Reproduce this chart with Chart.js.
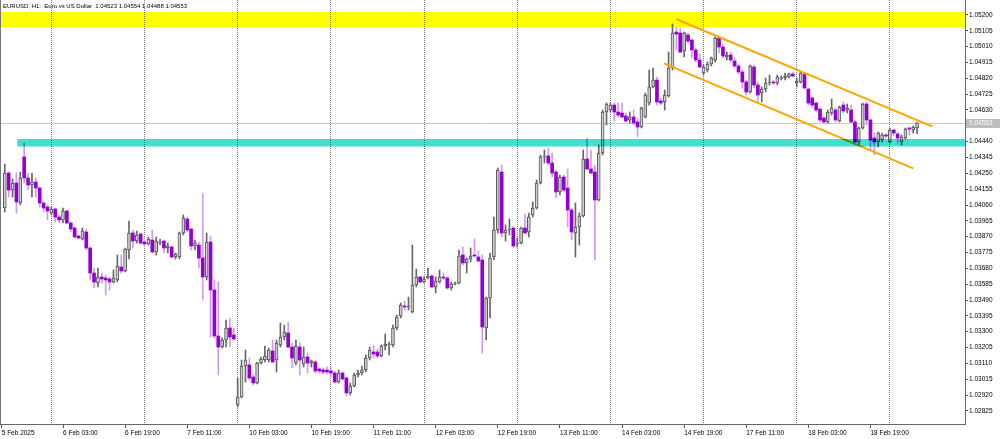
<!DOCTYPE html>
<html><head><meta charset="utf-8">
<script src="https://cdn.jsdelivr.net/npm/chart.js@4.4.1/dist/chart.umd.min.js"></script>
<style>html,body{margin:0;padding:0;background:#fff;overflow:hidden}</style>
</head><body>
<canvas id="c" width="1000" height="439"></canvas>
<script>
const symbolTitle = 'EURUSD, H1:  Euro vs US Dollar  1.04523 1.04554 1.04488 1.04553';

const openP = [
1.04042,1.04252,1.04150,1.04192,1.04072,1.04348,1.04222,1.04180,1.04198,1.04162,
1.04072,1.04048,1.04012,1.04036,1.03988,1.03970,1.04024,1.03952,1.03922,1.03874,
1.03856,1.03898,1.03802,1.03652,1.03592,1.03628,1.03622,1.03616,1.03598,1.03610,
1.03688,1.03664,1.03790,1.03892,1.03844,1.03886,1.03838,1.03826,1.03850,1.03778,
1.03832,1.03844,1.03802,1.03808,1.03748,1.03748,1.03892,1.03976,1.03916,1.03814,
1.03820,1.03742,1.03628,1.03838,1.03550,1.03274,1.03208,1.03250,1.03322,1.03280,
1.02860,1.02908,1.03094,1.03100,1.03028,1.02992,1.03112,1.03130,1.03130,1.03184,
1.03130,1.03220,1.03268,1.03292,1.03208,1.03112,1.03208,1.03106,1.03148,1.03112,
1.03118,1.03076,1.03070,1.03070,1.03064,1.03052,1.02998,1.03052,1.03022,1.02932,
1.02974,1.03040,1.03052,1.03070,1.03142,1.03178,1.03178,1.03154,1.03214,1.03220,
1.03220,1.03322,1.03394,1.03454,1.03448,1.03418,1.03580,1.03628,1.03598,1.03622,
1.03634,1.03568,1.03598,1.03628,1.03622,1.03562,1.03586,1.03592,1.03760,1.03712,
1.03736,1.03760,1.03748,1.03730,1.03322,1.03502,1.03748,1.03910,1.04258,1.03892,
1.03910,1.03922,1.03826,1.03832,1.03922,1.03898,1.04000,1.04042,1.04192,1.04348,
1.04354,1.04312,1.04258,1.04138,1.04228,1.04162,1.04030,1.03892,1.03928,1.03994,
1.04336,1.04276,1.04258,1.04090,1.04372,1.04618,1.04630,1.04660,1.04618,1.04612,
1.04594,1.04570,1.04588,1.04558,1.04528,1.04588,1.04672,1.04768,1.04810,1.04684,
1.04678,1.04714,1.04882,1.05098,1.05092,1.04984,1.05080,1.05050,1.04990,1.04930,
1.04852,1.04870,1.04906,1.04930,1.05062,1.05008,1.04948,1.04960,1.04924,1.04894,
1.04858,1.04798,1.04738,1.04888,1.04780,1.04732,1.04756,1.04792,1.04798,1.04792,
1.04816,1.04822,1.04828,1.04846,1.04792,1.04798,1.04846,1.04756,1.04702,1.04672,
1.04636,1.04582,1.04558,1.04612,1.04630,1.04564,1.04660,1.04630,1.04630,1.04558,
1.04438,1.04522,1.04666,1.04570,1.04462,1.04438,1.04450,1.04480,1.04438,1.04510,
1.04486,1.04438,1.04462,1.04522,1.04510,1.04523];

const highP = [
1.04306,1.04258,1.04216,1.04252,1.04258,1.04432,1.04252,1.04252,1.04222,1.04168,
1.04078,1.04060,1.04048,1.04042,1.04000,1.04042,1.04030,1.03958,1.03928,1.03880,
1.03922,1.03916,1.03808,1.03682,1.03682,1.03652,1.03640,1.03628,1.03670,1.03760,
1.03760,1.03802,1.03964,1.03910,1.03904,1.03892,1.03850,1.03868,1.03910,1.03868,
1.03856,1.03850,1.03832,1.03814,1.03772,1.03898,1.04000,1.03988,1.03920,1.03850,
1.03838,1.04132,1.03892,1.03874,1.03610,1.03598,1.03262,1.03370,1.03382,1.03322,
1.03022,1.03130,1.03190,1.03142,1.03040,1.03118,1.03148,1.03214,1.03202,1.03250,
1.03250,1.03352,1.03340,1.03358,1.03232,1.03250,1.03232,1.03208,1.03172,1.03130,
1.03130,1.03082,1.03082,1.03088,1.03088,1.03064,1.03070,1.03058,1.03028,1.02992,
1.03052,1.03070,1.03094,1.03160,1.03208,1.03220,1.03196,1.03220,1.03286,1.03238,
1.03340,1.03400,1.03472,1.03484,1.03508,1.03820,1.03676,1.03634,1.03628,1.03682,
1.03640,1.03628,1.03670,1.03652,1.03628,1.03598,1.03598,1.03790,1.03808,1.03742,
1.03802,1.03856,1.03784,1.03760,1.03508,1.03772,1.03988,1.04282,1.04300,1.03940,
1.03976,1.03928,1.03862,1.03928,1.04006,1.04012,1.04078,1.04210,1.04360,1.04390,
1.04402,1.04372,1.04270,1.04240,1.04240,1.04276,1.04042,1.04072,1.04012,1.04390,
1.04462,1.04390,1.04300,1.04420,1.04630,1.04672,1.04672,1.04672,1.04672,1.04672,
1.04612,1.04618,1.04630,1.04582,1.04648,1.04732,1.04870,1.04882,1.04828,1.04702,
1.04750,1.04978,1.05146,1.05128,1.05122,1.05098,1.05092,1.05056,1.05002,1.04966,
1.04900,1.04918,1.04948,1.05068,1.05074,1.05026,1.04978,1.04978,1.04942,1.04906,
1.04870,1.04810,1.04900,1.04900,1.04798,1.04768,1.04822,1.04840,1.04810,1.04840,
1.04834,1.04852,1.04852,1.04858,1.04822,1.04858,1.04852,1.04762,1.04708,1.04678,
1.04642,1.04588,1.04630,1.04696,1.04642,1.04654,1.04678,1.04666,1.04660,1.04570,
1.04528,1.04672,1.04678,1.04576,1.04492,1.04498,1.04492,1.04486,1.04522,1.04516,
1.04498,1.04480,1.04522,1.04528,1.04534,1.04554];

const lowP = [
1.04018,1.04108,1.04108,1.04012,1.04060,1.04192,1.04150,1.04108,1.04108,1.04048,
1.04018,1.03970,1.04000,1.03958,1.03952,1.03952,1.03946,1.03898,1.03862,1.03856,
1.03850,1.03790,1.03610,1.03562,1.03568,1.03592,1.03520,1.03550,1.03592,1.03598,
1.03652,1.03658,1.03736,1.03802,1.03832,1.03826,1.03820,1.03820,1.03772,1.03760,
1.03820,1.03772,1.03772,1.03742,1.03736,1.03736,1.03880,1.03898,1.03790,1.03790,
1.03682,1.03490,1.03610,1.03268,1.03262,1.03040,1.03202,1.03208,1.03208,1.03250,
1.02848,1.02902,1.02998,1.03010,1.02980,1.02986,1.03106,1.03118,1.03118,1.03112,
1.03058,1.03208,1.03250,1.03202,1.03082,1.03100,1.03040,1.03088,1.03052,1.03088,
1.03052,1.03052,1.03046,1.03046,1.03028,1.02992,1.02992,1.03010,1.02914,1.02920,
1.02968,1.03028,1.03040,1.03058,1.03130,1.03142,1.03142,1.03148,1.03190,1.03160,
1.03208,1.03310,1.03382,1.03430,1.03430,1.03412,1.03568,1.03592,1.03592,1.03616,
1.03562,1.03532,1.03592,1.03610,1.03556,1.03550,1.03580,1.03586,1.03700,1.03652,
1.03718,1.03748,1.03718,1.03172,1.03250,1.03382,1.03730,1.03892,1.03868,1.03844,
1.03880,1.03808,1.03808,1.03826,1.03886,1.03868,1.03988,1.04036,1.04186,1.04312,
1.04300,1.04228,1.04102,1.04120,1.04138,1.03928,1.03850,1.03748,1.03820,1.03988,
1.04270,1.04246,1.03730,1.04084,1.04360,1.04540,1.04618,1.04564,1.04588,1.04582,
1.04558,1.04552,1.04540,1.04468,1.04522,1.04582,1.04660,1.04762,1.04660,1.04660,
1.04630,1.04708,1.04870,1.04990,1.04972,1.04948,1.05032,1.04942,1.04918,1.04882,
1.04840,1.04858,1.04894,1.04918,1.04972,1.04942,1.04930,1.04918,1.04882,1.04846,
1.04762,1.04720,1.04732,1.04762,1.04672,1.04678,1.04738,1.04780,1.04786,1.04780,
1.04810,1.04810,1.04822,1.04828,1.04768,1.04792,1.04756,1.04660,1.04648,1.04618,
1.04558,1.04552,1.04552,1.04600,1.04558,1.04558,1.04612,1.04612,1.04552,1.04420,
1.04420,1.04516,1.04540,1.04390,1.04360,1.04408,1.04438,1.04462,1.04432,1.04480,
1.04432,1.04420,1.04456,1.04480,1.04492,1.04488];

const closeP = [
1.04252,1.04150,1.04192,1.04078,1.04222,1.04222,1.04180,1.04198,1.04162,1.04072,
1.04042,1.04024,1.04036,1.03988,1.03970,1.04024,1.03952,1.03916,1.03868,1.03862,
1.03904,1.03802,1.03652,1.03598,1.03628,1.03616,1.03610,1.03598,1.03622,1.03694,
1.03664,1.03796,1.03892,1.03844,1.03880,1.03832,1.03826,1.03856,1.03778,1.03844,
1.03838,1.03802,1.03814,1.03748,1.03766,1.03892,1.03982,1.03910,1.03814,1.03832,
1.03742,1.03628,1.03838,1.03550,1.03274,1.03208,1.03250,1.03322,1.03268,1.03256,
1.02908,1.03094,1.03130,1.03022,1.02992,1.03112,1.03136,1.03154,1.03190,1.03118,
1.03232,1.03268,1.03298,1.03208,1.03142,1.03214,1.03130,1.03148,1.03112,1.03124,
1.03064,1.03064,1.03058,1.03058,1.03052,1.02998,1.03052,1.03016,1.02932,1.02974,
1.03040,1.03052,1.03070,1.03142,1.03190,1.03166,1.03154,1.03214,1.03226,1.03222,
1.03322,1.03388,1.03460,1.03448,1.03454,1.03580,1.03628,1.03598,1.03616,1.03634,
1.03568,1.03604,1.03628,1.03622,1.03562,1.03586,1.03592,1.03754,1.03712,1.03736,
1.03754,1.03754,1.03724,1.03328,1.03502,1.03742,1.03910,1.04270,1.03892,1.03910,
1.03916,1.03814,1.03832,1.03922,1.03892,1.03988,1.04042,1.04192,1.04348,1.04354,
1.04312,1.04252,1.04138,1.04228,1.04150,1.04030,1.03898,1.03928,1.03994,1.04336,
1.04276,1.04252,1.04090,1.04372,1.04618,1.04666,1.04660,1.04618,1.04600,1.04588,
1.04564,1.04588,1.04552,1.04528,1.04642,1.04720,1.04768,1.04810,1.04678,1.04672,
1.04720,1.04882,1.05092,1.05086,1.04978,1.05092,1.05044,1.04990,1.04930,1.04888,
1.04888,1.04906,1.04942,1.05062,1.05008,1.04954,1.04960,1.04930,1.04894,1.04858,
1.04798,1.04738,1.04894,1.04780,1.04720,1.04756,1.04792,1.04798,1.04792,1.04828,
1.04822,1.04834,1.04846,1.04834,1.04804,1.04852,1.04762,1.04672,1.04660,1.04630,
1.04570,1.04558,1.04618,1.04642,1.04570,1.04648,1.04624,1.04642,1.04558,1.04438,
1.04522,1.04666,1.04570,1.04450,1.04438,1.04492,1.04480,1.04474,1.04510,1.04492,
1.04462,1.04468,1.04516,1.04516,1.04528,1.04553];

// time axis: candle index of each labelled hour, and index of each day start (dotted grid)
const xTickIndex  = [-0.79, 15, 31, 47, 63, 79, 95, 111, 127, 143, 159, 175, 191, 207, 223];
const xTickLabels = ['5 Feb 2025','6 Feb 03:00','6 Feb 19:00','7 Feb 11:00','10 Feb 03:00',
  '10 Feb 19:00','11 Feb 11:00','12 Feb 03:00','12 Feb 19:00','13 Feb 11:00','14 Feb 03:00',
  '14 Feb 19:00','17 Feb 11:00','18 Feb 03:00','18 Feb 19:00'];
const dayStartIndex = [12, 36, 60, 84, 108, 132, 156, 180, 204, 228];

const yTickValues = [1.05200,1.05105,1.05010,1.04915,1.04820,1.04725,1.04630,1.04535,1.04440,
  1.04345,1.04250,1.04155,1.04060,1.03965,1.03870,1.03775,1.03680,1.03585,1.03490,1.03395,
  1.03300,1.03205,1.03110,1.03015,1.02920,1.02825];

const lastPrice = 1.04553;
const resistanceZone = [1.05128, 1.05218];
const supportZone = [1.04411, 1.04456];
const supportZoneStart = 3.2;
const channelUpper = [{x: 172.9, y: 1.05176}, {x: 239.0, y: 1.04530}];
const channelLower = [{x: 169.8, y: 1.04910}, {x: 234.0, y: 1.04280}];

const FONT = 'Liberation Sans, Arial, sans-serif';
const FS = 6.5;
const TITLE_FS = 6;

const idx = openP.map((_, i) => i);
const isBull = idx.map(i => closeP[i] >= openP[i]);
const bodyData = idx.map(i => ({x: i, y: [openP[i], closeP[i]]}));
const wickData = idx.map(i => ({x: i, y: [lowP[i], highP[i]]}));

const overlay = {
  id: 'overlay',
  beforeDatasetsDraw(chart) {
    const {ctx, chartArea: a, scales: {y}} = chart;
    const py = Math.round(y.getPixelForValue(lastPrice)) + 0.5;
    ctx.save();
    ctx.strokeStyle = '#c8c8c8'; ctx.lineWidth = 1;
    ctx.beginPath(); ctx.moveTo(a.left, py); ctx.lineTo(a.right, py); ctx.stroke();
    ctx.restore();
  },
  afterDatasetsDraw(chart) {
    const {ctx, chartArea: a, scales: {x, y}} = chart;
    ctx.save();
    ctx.globalCompositeOperation = 'multiply';
    let t = y.getPixelForValue(resistanceZone[1]), b = y.getPixelForValue(resistanceZone[0]);
    ctx.fillStyle = '#ffff00';
    ctx.fillRect(a.left, t, a.right - a.left, b - t);
    t = y.getPixelForValue(supportZone[1]); b = y.getPixelForValue(supportZone[0]);
    const sx = x.getPixelForValue(supportZoneStart);
    ctx.fillStyle = '#40e0d0';
    ctx.fillRect(sx, t, a.right - sx, b - t);
    ctx.restore();
  },
  afterDraw(chart) {
    const {ctx, chartArea: a, scales: {y}} = chart;
    ctx.save();
    ctx.strokeStyle = '#777'; ctx.lineWidth = 1;
    ctx.beginPath(); ctx.moveTo(a.left + 0.5, a.top); ctx.lineTo(a.left + 0.5, a.bottom); ctx.stroke();
    ctx.font = TITLE_FS + 'px ' + FONT;
    ctx.fillStyle = '#000'; ctx.textBaseline = 'middle'; ctx.textAlign = 'left';
    ctx.fillText(symbolTitle, a.left + 3, a.top + 6);
    const py = Math.round(y.getPixelForValue(lastPrice));
    ctx.font = FS + 'px ' + FONT;
    ctx.fillStyle = '#bdbdbd';
    ctx.fillRect(a.right + 1, py - 4, chart.width - a.right - 1, 9);
    ctx.fillStyle = '#ffffff';
    ctx.fillText(lastPrice.toFixed(5), a.right + 4, py + 0.5);
    ctx.restore();
  }
};

const zeroPad = s => { s.paddingTop = 0; s.paddingBottom = 0; s.paddingLeft = 0; s.paddingRight = 0; };

new Chart(document.getElementById('c'), {
  type: 'bar',
  data: {
    datasets: [
      { type: 'line', data: channelUpper, borderColor: '#ffa500', borderWidth: 2, pointRadius: 0, order: 0 },
      { type: 'line', data: channelLower, borderColor: '#ffa500', borderWidth: 2, pointRadius: 0, order: 0 },
      { type: 'bar', data: bodyData, order: 1, grouped: false, barThickness: 3, minBarLength: 1,
        backgroundColor: isBull.map(b => b ? '#cfcfcf' : '#9400d3'),
        borderColor: isBull.map(b => b ? '#555555' : '#9400d3'),
        borderWidth: isBull.map(b => b ? 1 : 0), borderSkipped: false },
      { type: 'bar', data: wickData, order: 2, grouped: false, barThickness: 1, minBarLength: 1,
        backgroundColor: isBull.map(b => b ? '#666666' : '#d09af0'), borderWidth: 0 }
    ]
  },
  options: {
    responsive: false, animation: false, devicePixelRatio: 1, events: [],
    layout: { padding: 0, autoPadding: false },
    plugins: { legend: { display: false }, tooltip: { enabled: false } },
    scales: {
      x: {
        type: 'linear', min: -1.229, max: 247.35, offset: false, position: 'bottom',
        afterBuildTicks: s => { s.ticks = [...dayStartIndex, ...xTickIndex].sort((p, q) => p - q).map(v => ({value: v})); },
        afterFit: s => { s.height = 15; zeroPad(s); },
        grid: { offset: false, lineWidth: 1, tickLength: 4,
          color: c => (c.tick && dayStartIndex.includes(c.tick.value)) ? '#808080' : 'rgba(0,0,0,0)',
          tickColor: c => (c.tick && xTickIndex.includes(c.tick.value)) ? '#555555' : 'rgba(0,0,0,0)' },
        border: { display: true, color: '#666666', width: 1, dash: [1, 1] },
        ticks: { autoSkip: false, maxRotation: 0, minRotation: 0, align: 'start', padding: 1,
          color: '#000', font: { family: FONT, size: FS },
          callback: v => { const k = xTickIndex.indexOf(v); return k >= 0 ? xTickLabels[k] : ''; } }
      },
      y: {
        type: 'linear', position: 'right', min: 1.02746, max: 1.05290,
        afterBuildTicks: s => { s.ticks = yTickValues.map(v => ({value: v})); },
        afterFit: s => { s.width = 35; zeroPad(s); },
        grid: { drawOnChartArea: false, tickLength: 3, color: '#555555', tickColor: '#555555' },
        border: { display: true, color: '#666666', width: 1 },
        ticks: { padding: 1, color: '#000', font: { family: FONT, size: FS }, callback: v => v.toFixed(5) }
      }
    }
  },
  plugins: [overlay]
});
</script>
</body></html>
